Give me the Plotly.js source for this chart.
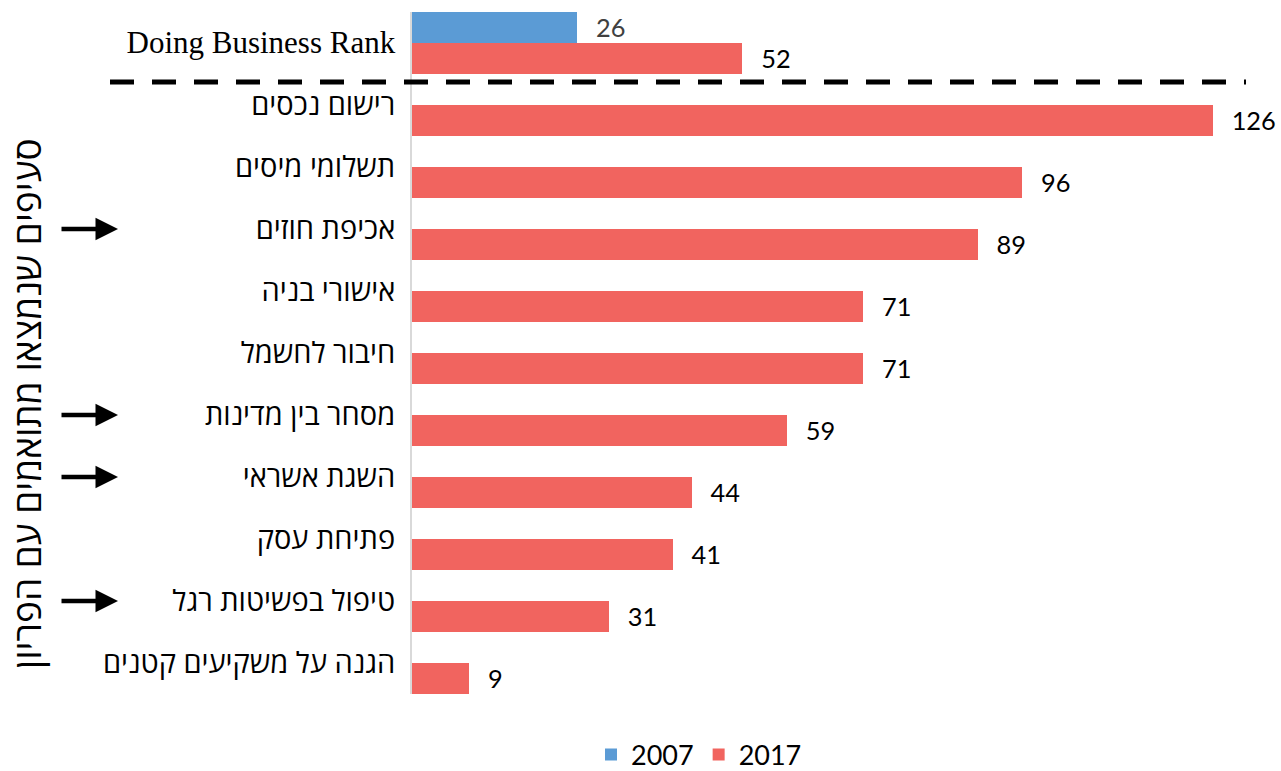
<!DOCTYPE html>
<html>
<head>
<meta charset="utf-8">
<script src="https://cdn.plot.ly/plotly-3.0.1.min.js"></script>
<style>html,body{margin:0;padding:0;background:#fff;}#chart{width:1281px;height:771px;}</style>
</head>
<body>
<div id="chart"></div>
<script>
var categories = ["Doing Business Rank", "רישום נכסים", "תשלומי מיסים", "אכיפת חוזים", "אישורי בניה", "חיבור לחשמל", "מסחר בין מדינות", "השגת אשראי", "פתיחת עסק", "טיפול בפשיטות רגל", "הגנה על משקיעים קטנים"];
var values2007 = [26, null, null, null, null, null, null, null, null, null, null];
var values2017 = [52, 126, 96, 89, 71, 71, 59, 44, 41, 31, 9];
var arrowRows = ["אכיפת חוזים", "מסחר בין מדינות", "השגת אשראי", "טיפול בפשיטות רגל"];
var yTitle = "סעיפים שנמצאו מתואמים עם הפריון";

var tickText = categories.map(function (c, i) {
  return i === 0 ? '<span style="font-family:\'Liberation Serif\';font-size:31px">' + c + '</span>' : c;
});
var pad = "\u2002\u2009";

var traces = [
  {
    type: "bar", orientation: "h", name: "2007",
    y: categories, x: values2007,
    marker: {color: "#5B9BD5"},
    text: values2007.map(function (v) { return v === null ? "" : pad + v; }),
    textposition: "outside", cliponaxis: false,
    textfont: {family: "Lato, 'Open Sans', sans-serif", size: 27, color: "#404040"},
    hoverinfo: "none"
  },
  {
    type: "bar", orientation: "h", name: "2017",
    y: categories, x: values2017,
    marker: {color: "#F1645F"},
    text: values2017.map(function (v) { return pad + v; }),
    textposition: "outside", cliponaxis: false,
    textfont: {family: "Lato, 'Open Sans', sans-serif", size: 27, color: "#000000"},
    hoverinfo: "none"
  }
];

var annotations = arrowRows.map(function (r) {
  return {
    xref: "paper", yref: "y", x: (118 - 412) / 858, y: r,
    ax: -58, ay: 0, axref: "pixel", ayref: "pixel",
    showarrow: true, arrowhead: 2, arrowsize: 1, arrowwidth: 4.5, arrowcolor: "#000",
    text: ""
  };
});
annotations.push({
  xref: "paper", yref: "paper", x: (26 - 412) / 858, y: 1 - (404 - 12) / 682,
  text: yTitle, textangle: -90, showarrow: false,
  font: {family: "'Open Sans', 'DejaVu Sans', sans-serif", size: 37, color: "#000"},
  xanchor: "center", yanchor: "middle"
});

var layout = {
  width: 1281, height: 771,
  margin: {l: 412, r: 11, t: 12, b: 77, autoexpand: false},
  paper_bgcolor: "#fff", plot_bgcolor: "#fff",
  barmode: "group", bargap: 0, bargroupgap: 0,
  showlegend: true,
  legend: {
    orientation: "h", x: (699 - 412) / 858, xanchor: "center",
    y: -(755 - 694) / 682, yanchor: "middle",
    font: {family: "Lato, 'Open Sans', sans-serif", size: 27, color: "#000"},
    traceorder: "normal", itemwidth: 30
  },
  xaxis: {
    range: [0, 135], showticklabels: false, showgrid: false, zeroline: false,
    showline: false, ticks: "", fixedrange: true
  },
  yaxis: {
    autorange: "reversed", type: "category",
    tickmode: "array", tickvals: categories, ticktext: tickText,
    showline: true, linecolor: "#D9D9D9", linewidth: 2, ticks: "",
    showgrid: false, zeroline: false,
    ticklabelstandoff: 9,
    tickfont: {family: "'Open Sans', 'DejaVu Sans', sans-serif", size: 29, color: "#000"},
    fixedrange: true
  },
  shapes: [{
    type: "line", xref: "paper", yref: "y",
    x0: (110 - 412) / 858, x1: (1246 - 412) / 858, y0: 0.63, y1: 0.63,
    line: {color: "#000", width: 5, dash: "24px,18px"}
  }],
  annotations: annotations
};

Plotly.newPlot("chart", traces, layout, {displayModeBar: false, staticPlot: true});
</script>
</body>
</html>
